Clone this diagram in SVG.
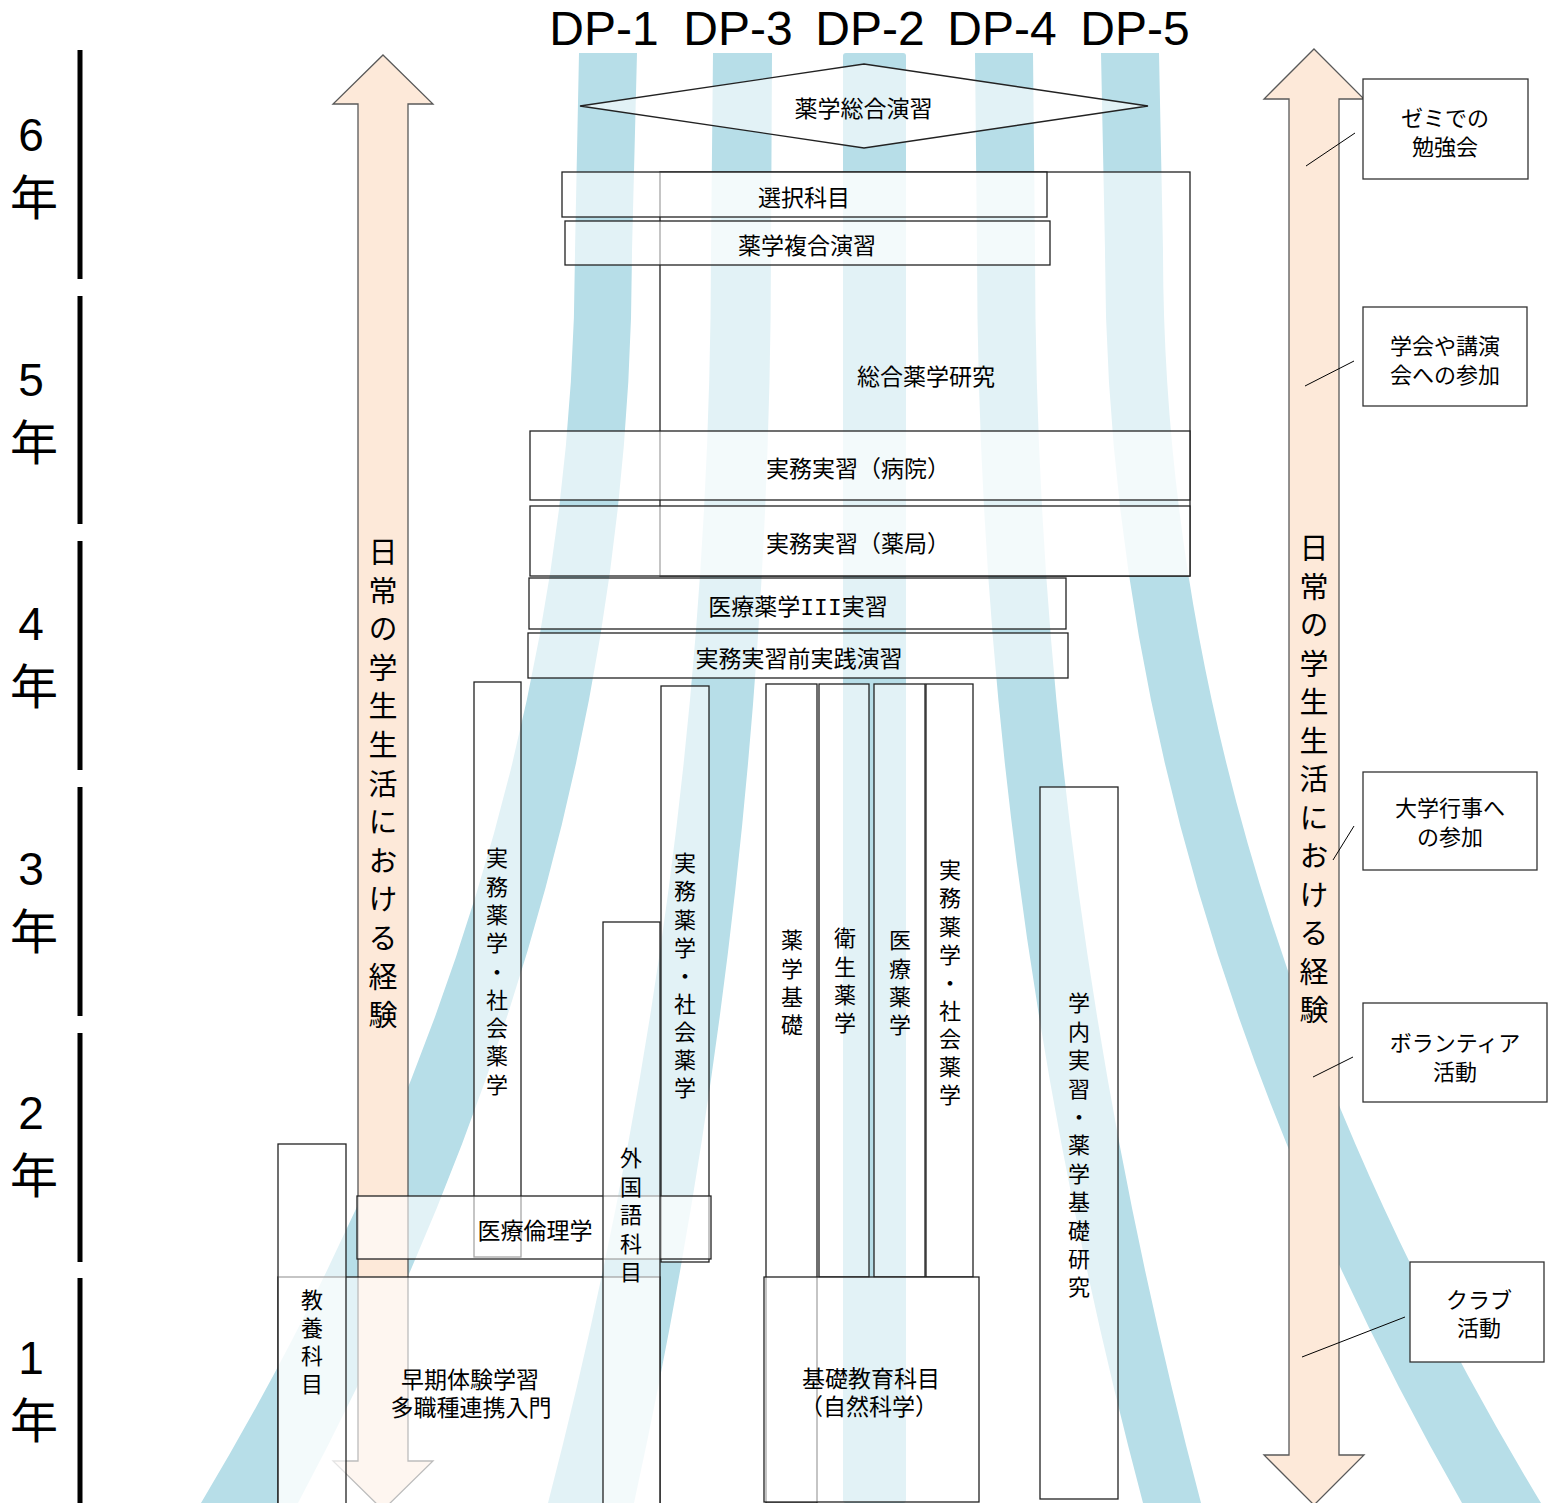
<svg xmlns="http://www.w3.org/2000/svg" width="1555" height="1503" viewBox="0 0 1555 1503">
<style>
.band{fill:#B7DEE8}
.box{fill:#fff;fill-opacity:.6;stroke:#222;stroke-width:1.3}
.cbox{fill:#fff;stroke:#333;stroke-width:1.3}
.arrow{fill:#FDE9D9;stroke:#595959;stroke-width:1.3}
.t{font-family:"Liberation Sans","Noto Sans CJK JP",sans-serif;font-size:23px;fill:#000;text-anchor:middle}
.vt{font-family:"Liberation Sans","Noto Sans CJK JP",sans-serif;font-size:22px;fill:#000;writing-mode:vertical-rl;text-anchor:start;letter-spacing:6.3px}
.a{font-size:29px;letter-spacing:9.6px}
.c{font-size:22px}
.dp{font-family:"Liberation Sans",Arial,sans-serif;font-size:48px;fill:#000;text-anchor:middle}
.num{font-family:"Liberation Sans",Arial,sans-serif;font-size:46px;fill:#000;text-anchor:middle}
.nen{font-family:"Liberation Sans","Noto Sans CJK JP",sans-serif;font-size:48px;fill:#000;text-anchor:middle}
.bar{stroke:#000;stroke-width:5}
.ln{stroke:#000;stroke-width:1;fill:none}
.mono{font-family:"Liberation Mono",monospace}
</style>
<rect width="1555" height="1503" fill="#fff"/>

<g id="dp-bands">
<path id="band-dp1" class="band" d="M579,53 L575,250 Q575,877 201,1503 L298,1503 Q632,877 632,250 L637,53 Z"/>
<path id="band-dp3" class="band" d="M713,53 L711,250 Q711,877 548,1503 L634,1503 Q771,877 771,250 L772,53 Z"/>
<rect id="band-dp2" class="band" x="843" y="53" width="63" height="1450" rx="3"/>
<path id="band-dp4" class="band" d="M975,53 L977,250 Q977,877 1143,1503 L1201,1503 Q1035,877 1035,250 L1033,53 Z"/>
<path id="band-dp5" class="band" d="M1101,53 L1105,250 Q1105,877 1462,1503 L1541,1503 Q1163,877 1163,250 L1159,53 Z"/>
</g>

<g id="dp-labels">
<text class="dp" x="604" y="45">DP-1</text>
<text class="dp" x="738" y="45">DP-3</text>
<text class="dp" x="870" y="45">DP-2</text>
<text class="dp" x="1002" y="45">DP-4</text>
<text class="dp" x="1135" y="45">DP-5</text>
</g>

<g id="years">
<line class="bar" x1="80" y1="50" x2="80" y2="279"/>
<line class="bar" x1="80" y1="296" x2="80" y2="524"/>
<line class="bar" x1="80" y1="541" x2="80" y2="770"/>
<line class="bar" x1="80" y1="787" x2="80" y2="1016"/>
<line class="bar" x1="80" y1="1033" x2="80" y2="1262"/>
<line class="bar" x1="80" y1="1278" x2="80" y2="1503"/>
<text class="num" x="31" y="151">6</text><text class="nen" x="34" y="215">年</text>
<text class="num" x="31" y="395.5">5</text><text class="nen" x="34" y="459.5">年</text>
<text class="num" x="31" y="640">4</text><text class="nen" x="34" y="704">年</text>
<text class="num" x="31" y="884.5">3</text><text class="nen" x="34" y="948.5">年</text>
<text class="num" x="31" y="1129">2</text><text class="nen" x="34" y="1193">年</text>
<text class="num" x="31" y="1373.5">1</text><text class="nen" x="34" y="1437.5">年</text>
</g>

<g id="arrow-left">
<path class="arrow" d="M383,55 L433,104 L408,104 L408,1461 L433,1461 L383,1510 L333,1461 L358,1461 L358,104 L333,104 Z"/>
<text class="vt a" x="380" y="537.5">日常の学生生活における経験</text>
</g>

<g id="arrow-right">
<path class="arrow" d="M1314,49 L1364,99 L1339,99 L1339,1455 L1364,1455 L1314,1505 L1264,1455 L1289,1455 L1289,99 L1264,99 Z"/>
<text class="vt a" x="1311" y="533.5" style="letter-spacing:9.5px">日常の学生生活における経験</text>
</g>

<g id="sogo-kenkyu"><rect class="box" x="660" y="172" width="530" height="404"/><text class="t" x="926" y="384.7">総合薬学研究</text></g>
<g id="sentaku"><rect class="box" x="562" y="172" width="485" height="45"/><text class="t" x="804" y="205.7">選択科目</text></g>
<g id="fukugo"><rect class="box" x="565" y="221" width="485" height="44"/><text class="t" x="807" y="253.7">薬学複合演習</text></g>
<g id="jitsumu-byoin"><rect class="box" x="530" y="431" width="660" height="69"/><text class="t" x="858" y="476.7">実務実習（病院）</text></g>
<g id="jitsumu-yakkyoku"><rect class="box" x="530" y="506" width="660" height="70"/><text class="t" x="858" y="551.7">実務実習（薬局）</text></g>
<g id="iryo3"><rect class="box" x="529" y="578" width="537" height="51"/><text class="t" x="798" y="614.7">医療薬学<tspan class="mono">III</tspan>実習</text></g>
<g id="jissen"><rect class="box" x="528" y="633" width="540" height="45"/><text class="t" x="799" y="666.7">実務実習前実践演習</text></g>
<g id="sogo-enshu"><polygon class="box" points="580,106 864,64 1148,106 864,148"/><text class="t" x="863.5" y="116.7">薬学総合演習</text></g>

<g id="shakai1"><rect class="box" x="474" y="682" width="47" height="575"/><text class="vt" x="494.5" y="847">実務薬学・社会薬学</text></g>
<g id="shakai2"><rect class="box" x="661" y="686" width="48" height="576"/><text class="vt" x="682.5" y="852" style="letter-spacing:6.1px">実務薬学・社会薬学</text></g>
<g id="yakugaku-kiso"><rect class="box" x="766" y="684" width="51" height="819"/><text class="vt" x="789.5" y="929">薬学基礎</text></g>
<g id="eisei"><rect class="box" x="819" y="684" width="50" height="593"/><text class="vt" x="842.5" y="927">衛生薬学</text></g>
<g id="iryo"><rect class="box" x="874" y="684" width="51" height="593"/><text class="vt" x="897.5" y="929">医療薬学</text></g>
<g id="shakai3"><rect class="box" x="926" y="684" width="47" height="593"/><text class="vt" x="947.5" y="859" style="letter-spacing:6.1px">実務薬学・社会薬学</text></g>
<g id="gakunai"><rect class="box" x="1040" y="787" width="78" height="712"/><text class="vt" x="1076.5" y="992" style="letter-spacing:6.4px">学内実習・薬学基礎研究</text></g>

<g id="soki"><rect class="box" x="278" y="1277" width="382" height="230"/><text class="t" x="470" y="1387.7">早期体験学習</text><text class="t" x="471" y="1415.7">多職種連携入門</text></g>
<g id="rinri"><rect class="box" x="357" y="1196" width="354" height="63"/><text class="t" x="535" y="1238.7">医療倫理学</text></g>
<g id="gaikokugo"><rect class="box" x="603" y="922" width="57" height="585"/><text class="vt" x="628.5" y="1147" style="letter-spacing:6.5px">外国語科目</text></g>
<g id="kyoyo"><rect class="box" x="278" y="1144" width="68" height="363"/><text class="vt" x="309.5" y="1289" style="letter-spacing:6px">教養科目</text></g>
<g id="kiso-kyoiku"><rect class="box" x="764" y="1277" width="215" height="225"/><text class="t" x="871" y="1386.7">基礎教育科目</text><text class="t" x="869" y="1414.7">（自然科学）</text></g>

<g id="connectors">
<line class="ln" x1="1306" y1="166" x2="1355" y2="133"/>
<line class="ln" x1="1305" y1="386" x2="1354" y2="361"/>
<line class="ln" x1="1333" y1="860" x2="1354" y2="826"/>
<line class="ln" x1="1313" y1="1077" x2="1353" y2="1057"/>
<line class="ln" x1="1302" y1="1357" x2="1405" y2="1317"/>
</g>

<g id="zemi"><rect class="cbox" x="1363" y="79" width="165" height="100"/><text class="t c" x="1445" y="126.4">ゼミでの</text><text class="t c" x="1445" y="155.4">勉強会</text></g>
<g id="gakkai"><rect class="cbox" x="1363" y="307" width="164" height="99"/><text class="t c" x="1445" y="354.4">学会や講演</text><text class="t c" x="1445" y="383.4">会への参加</text></g>
<g id="gyoji"><rect class="cbox" x="1363" y="772" width="174" height="98"/><text class="t c" x="1450" y="816.4">大学行事へ</text><text class="t c" x="1450" y="845.4">の参加</text></g>
<g id="volunteer"><rect class="cbox" x="1363" y="1003" width="184" height="99"/><text class="t c" x="1455" y="1051.4">ボランティア</text><text class="t c" x="1455" y="1080.4">活動</text></g>
<g id="club"><rect class="cbox" x="1410" y="1262" width="134" height="100"/><text class="t c" x="1479" y="1308.4">クラブ</text><text class="t c" x="1479" y="1336.4">活動</text></g>
</svg>
